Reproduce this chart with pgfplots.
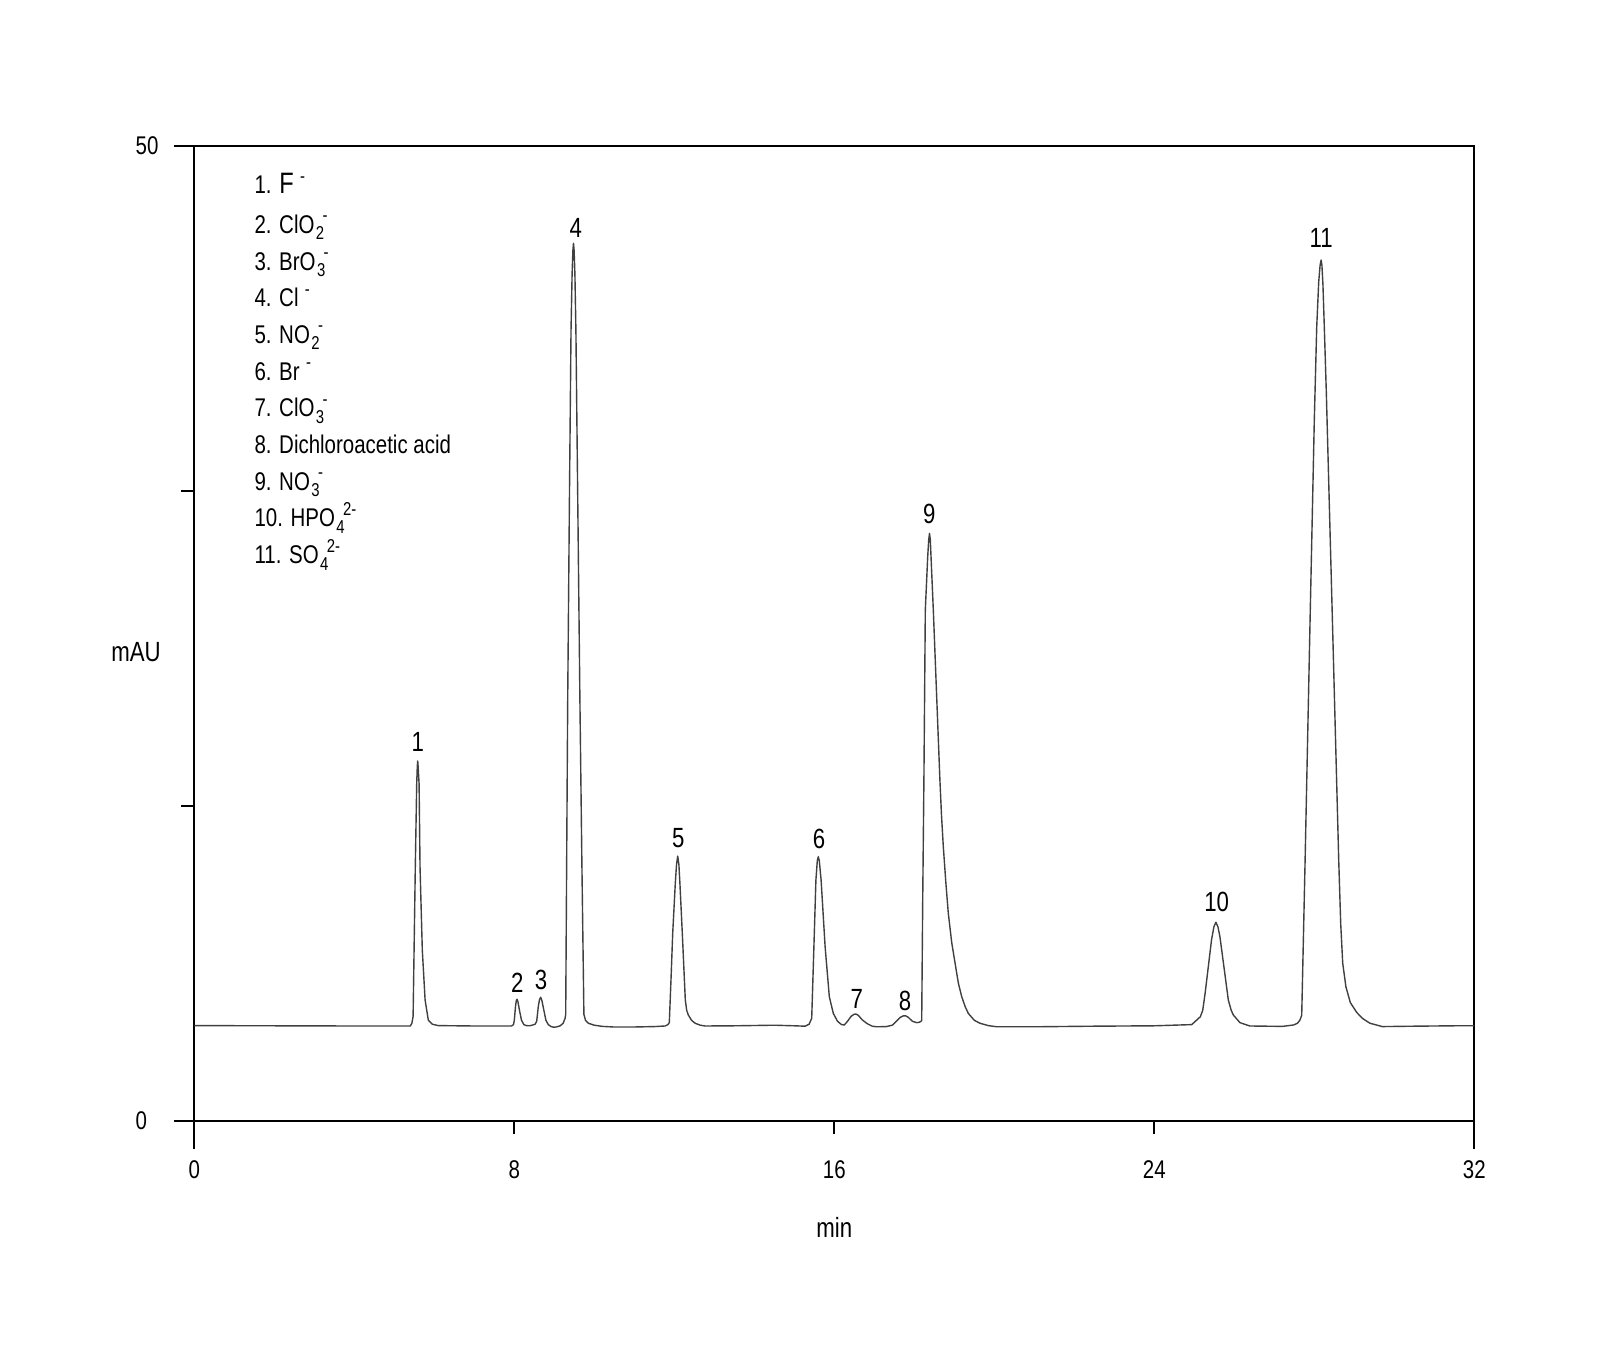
\documentclass[border=0pt]{standalone}
\usepackage{fontspec}
\setmainfont{Liberation Sans}[FakeStretch=0.8]
\usepackage{pgfplots}
\pgfplotsset{compat=1.18}
\newcommand\ssz{\fontsize{5.3pt}{5pt}\selectfont}
\newcommand\ion[2]{\kern0.4pt\makebox[0pt][l]{\raisebox{-1.9pt}{\ssz#1}}\kern1.9pt\raisebox{3.3pt}{\ssz#2}}
\newcommand\chg{\kern1.8pt\raisebox{3.3pt}{\ssz-}}
\newcommand\lfont{\fontsize{7.28pt}{8pt}\selectfont}
\newcommand\pfont{\fontsize{7.9pt}{9pt}\selectfont}
\begin{document}
\begin{tikzpicture}
\path[use as bounding box] (-19.43mm,-25.03mm) rectangle (140.57mm,112.07mm);
\begin{axis}[
  scale only axis, width=128mm, height=97.47mm,
  xmin=0, xmax=32, ymin=0, ymax=49.5,
  clip=false,
  axis line style={line width=0.2mm, black},
  every tick/.style={line width=0.2mm, black},
  tick align=outside,
  xtick pos=bottom, ytick pos=left,
  major tick length=1.3mm,
  xtick={8,16,24},
  extra x ticks={0,32},
  extra x tick style={major tick length=2.83mm, xticklabel style={yshift=1.53mm}},
  ytick={16,32}, yticklabels={,},
  extra y ticks={0,49.5}, extra y tick labels={0,50},
  extra y tick style={major tick length=2.03mm},
  /pgf/number format/assume math mode=true,
  ticklabel style={font=\lfont, inner sep=0pt},
  xticklabel style={anchor=base, yshift=-4.46mm},
  yticklabel style={anchor=west, xshift=-3.9mm},
]
\addplot[line width=0.14mm, black!75, line join=round] coordinates {
(0,4.83) (2,4.82) (4,4.81) (5.40,4.81) (5.44,4.95) (5.47,5.3) (5.525,12.9) (5.56,17.1) (5.575,18.0) (5.585,18.27) (5.595,18.0) (5.62,17.1) (5.643,12.9) (5.70,8.67) (5.77,6.13) (5.85,5.11) (5.95,4.9) (6.1,4.83) (7,4.81)
(7.93,4.81) (7.98,4.88) (8.00,5.1) (8.03,5.8) (8.05,6.1) (8.068,6.17) (8.09,6.05) (8.13,5.6) (8.18,5.1) (8.24,4.88) (8.30,4.83) (8.38,4.82)
(8.46,4.86) (8.52,4.9) (8.56,5.05) (8.60,5.8) (8.63,6.15) (8.66,6.27) (8.69,6.1) (8.74,5.6) (8.79,5.1) (8.85,4.88) (8.92,4.78) (8.98,4.75) (9.05,4.76) (9.15,4.82) (9.22,4.95) (9.27,5.2)
(9.285,5.4) (9.31,13.5) (9.335,21.37) (9.38,32) (9.418,40.15) (9.445,43.0) (9.465,44.2) (9.48,44.56) (9.495,44.2) (9.515,43.0) (9.54,40.15) (9.59,30.8) (9.64,21.37) (9.69,13.0) (9.74,5.4) (9.78,5.1) (9.85,4.95) (10.0,4.85) (10.2,4.79) (10.48,4.76) (11.0,4.76) (11.5,4.78)
(11.77,4.81) (11.84,4.88) (11.875,4.98) (11.92,7.3) (11.96,9.52) (12.025,12.06) (12.055,13.0) (12.085,13.44) (12.115,13.0) (12.14,12.06) (12.2,9.52) (12.275,6.13) (12.31,5.6) (12.35,5.37) (12.43,5.1) (12.52,4.95) (12.65,4.85) (12.77,4.81) (13.5,4.82) (14.5,4.85) (15.0,4.82)
(15.27,4.8) (15.37,4.9) (15.435,5.2) (15.49,8.84) (15.54,12.22) (15.575,13.2) (15.6,13.41) (15.625,13.2) (15.67,12.22) (15.77,8.84) (15.875,6.3) (15.975,5.45) (16.08,5.05) (16.18,4.88) (16.25,4.86)
(16.33,5.05) (16.42,5.3) (16.49,5.4) (16.54,5.42) (16.6,5.35) (16.7,5.12) (16.82,4.93) (16.95,4.8) (17.06,4.77) (17.3,4.78)
(17.45,4.85) (17.55,5.05) (17.65,5.25) (17.72,5.32) (17.78,5.33) (17.85,5.25) (17.95,5.05) (18.06,4.98) (18.13,5.0) (18.185,5.08)
(18.21,11.2) (18.24,17.3) (18.275,25.94) (18.335,28.64) (18.36,29.5) (18.38,29.83) (18.4,29.5) (18.418,28.64) (18.475,25.94) (18.56,21.5) (18.64,17.3) (18.68,15.5) (18.725,13.92) (18.79,12.05) (18.85,10.53) (18.935,9.05) (19.02,7.99) (19.1,7.0) (19.185,6.3) (19.27,5.8) (19.35,5.45) (19.5,5.1) (19.64,4.95) (19.85,4.83) (20.06,4.77) (21,4.77) (22.5,4.8) (24,4.82)
(24.935,4.88) (25.06,5.11) (25.15,5.28) (25.21,5.6) (25.27,6.47) (25.35,7.82) (25.43,9.18) (25.49,9.85) (25.54,10.08) (25.59,9.85) (25.64,9.35) (25.74,7.82) (25.85,6.13) (25.92,5.62) (25.975,5.37) (26.14,4.98) (26.39,4.81) (27.2,4.79)
(27.48,4.86) (27.58,4.95) (27.64,5.11) (27.685,5.35) (27.77,13.24) (27.9,26.0) (28.0,35.6) (28.06,40.3) (28.11,42.6) (28.145,43.45) (28.17,43.71) (28.19,43.45) (28.215,42.5) (28.25,40.3) (28.30,37.0) (28.45,25.6) (28.61,13.24) (28.66,10.0) (28.71,8.0) (28.79,6.8) (28.9,6.0) (29.06,5.5) (29.2,5.2) (29.39,4.95) (29.7,4.78) (30.5,4.8) (31.5,4.82) (32,4.82)
};
% peak labels
\begin{scope}[every node/.style={anchor=base, inner sep=0pt, font=\pfont}]
\node at (axis cs:5.585,18.74) {1};
\node at (axis cs:8.075,6.50) {2};
\node at (axis cs:8.67,6.64) {3};
\node at (axis cs:9.535,44.87) {4};
\node at (axis cs:12.10,13.85) {5};
\node at (axis cs:15.62,13.83) {6};
\node at (axis cs:16.56,5.71) {7};
\node at (axis cs:17.77,5.62) {8};
\node at (axis cs:18.375,30.31) {9};
\node at (axis cs:25.56,10.61) {10};
\node at (axis cs:28.17,44.37) {11};
\end{scope}
% compound list
\begin{scope}[every node/.style={anchor=base west, inner sep=0pt, font=\lfont}]
\node at (axis cs:1.49,47.07) {1. {\fontsize{8.4pt}{9pt}\selectfont F}\chg};
\node at (axis cs:1.49,45.07) {2. ClO\ion{2}{-}};
\node at (axis cs:1.49,43.20) {3. BrO\ion{3}{-}};
\node at (axis cs:1.49,41.34) {4. Cl\chg};
\node at (axis cs:1.49,39.48) {5. NO\ion{2}{-}};
\node at (axis cs:1.49,37.61) {6. Br\chg};
\node at (axis cs:1.49,35.75) {7. ClO\ion{3}{-}};
\node at (axis cs:1.49,33.88) {8. Dichloroacetic acid};
\node at (axis cs:1.49,32.02) {9. NO\ion{3}{-}};
\node at (axis cs:1.49,30.16) {10. HPO\ion{4}{2-}};
\node at (axis cs:1.49,28.29) {11. SO\ion{4}{2-}};
\end{scope}
\node[anchor=center, inner sep=0pt, font=\pfont] at (axis cs:0,23.8) [xshift=-5.83mm] {mAU};
\node[anchor=base, inner sep=0pt, font=\pfont] at (axis cs:16,0) [yshift=-11.63mm] {min};
\end{axis}
\end{tikzpicture}
\end{document}
